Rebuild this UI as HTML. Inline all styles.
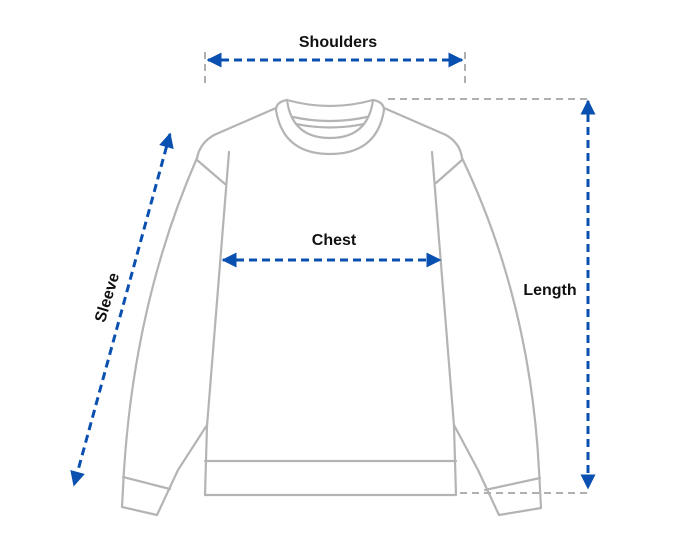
<!DOCTYPE html>
<html><head><style>
html,body{margin:0;padding:0;background:#fff;}
svg{display:block;}
text{font-family:"Liberation Sans",sans-serif;font-size:16px;fill:#111;font-weight:bold;}
</style></head><body>
<svg width="690" height="534" viewBox="0 0 690 534">
<defs>
<marker id="ah" viewBox="0 0 10 10" refX="9" refY="5" markerWidth="16" markerHeight="15" orient="auto-start-reverse" markerUnits="userSpaceOnUse" style="overflow:visible">
<path d="M0,0 L10,5 L0,10 Z" fill="#0a50b0"/>
</marker>
</defs>
<g fill="none" stroke="#b4b4b4" stroke-width="2.2" stroke-linejoin="round" stroke-linecap="round">
<path d="M287,100 Q330,112 373,100"/>
<path d="M287,100 Q276,102 276,110 Q283,154 330,154 Q377,154 384,110 Q384,102 373,100"/>
<path d="M287,100 Q292,138 330,138 Q368,138 373,100"/>
<path d="M293,117 Q330,125 367,117"/>
<path d="M296,124 Q330,131 364,124"/>
<path d="M276,108 L214,135 Q200,143 197,158"/>
<path d="M384,108 L446,135 Q460,143 462,158"/>
<path d="M197,160 L225,184"/>
<path d="M462,160 L436,183"/>
<path d="M229,152 L207,426 L205,495"/>
<path d="M432,152 L454,426 L456,495"/>
<path d="M205,461 L456,461 M205,495 L456,495"/>
<path d="M197,158 Q135,300 124,470 L122,507 L157,515 L178,470 L207,425"/>
<path d="M123,477 L170,489"/>
<path d="M462,158 Q530,300 539,470 L541,508 L499,515 L478,470 L454,425"/>
<path d="M540,478 L485,490"/>
</g>
<g fill="none" stroke="#b0b0b0" stroke-width="2" stroke-dasharray="7,5">
<path d="M205,52 L205,86 M465,52 L465,86"/>
<path d="M388,99 L588,99"/>
<path d="M460,493 L588,493"/>
</g>
<g fill="none" stroke="#0a50b0" stroke-width="3" stroke-dasharray="8,5">
<path d="M208,60 L462,60" marker-start="url(#ah)" marker-end="url(#ah)"/>
<path d="M223,260 L440,260" marker-start="url(#ah)" marker-end="url(#ah)"/>
<path d="M588,101 L588,488" marker-start="url(#ah)" marker-end="url(#ah)"/>
<path d="M170,134 L74,485" marker-start="url(#ah)" marker-end="url(#ah)"/>
</g>
<text x="338" y="47" text-anchor="middle">Shoulders</text>
<text x="334" y="245" text-anchor="middle">Chest</text>
<text x="550" y="295" text-anchor="middle">Length</text>
<text x="0" y="0" text-anchor="middle" transform="translate(112,299) rotate(-73)">Sleeve</text>
</svg>
</body></html>
